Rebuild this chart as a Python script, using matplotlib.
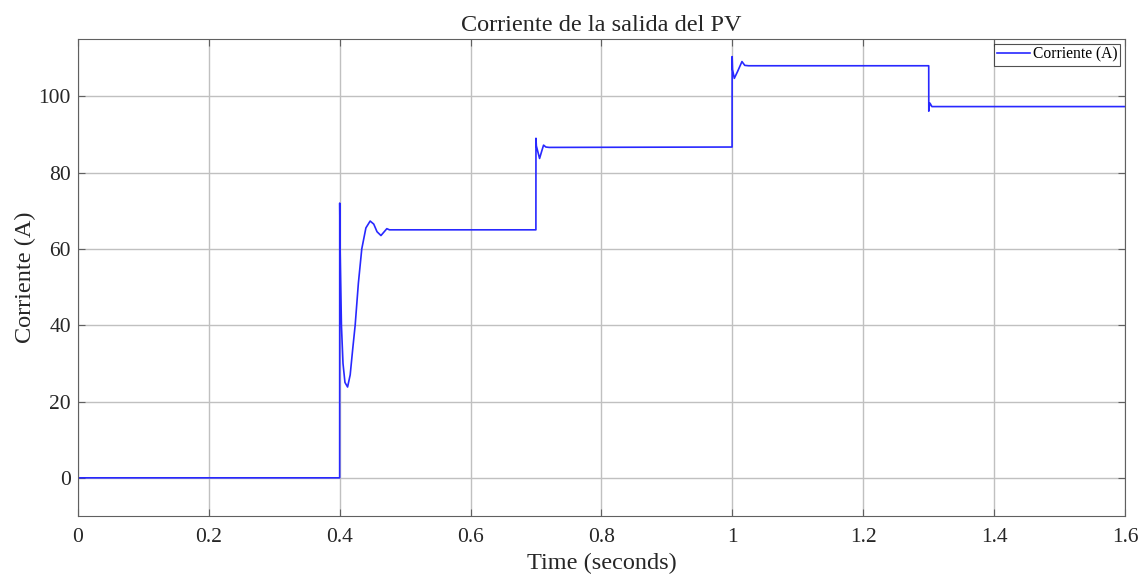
import matplotlib
matplotlib.use("Agg")
import matplotlib.pyplot as plt

# Data (time in s, current in A)
t_data = [0.0, 0.3999, 0.4, 0.4006, 0.4026, 0.405, 0.408, 0.412, 0.416, 0.42,
          0.4236, 0.4285, 0.4337, 0.44, 0.4465, 0.452, 0.457, 0.463, 0.468,
          0.472, 0.476,
          0.6998, 0.6999, 0.7005, 0.7054, 0.709, 0.7115, 0.715, 0.72,
          0.9996, 0.9997, 1.0003, 1.003, 1.008, 1.0147, 1.019, 1.025,
          1.3001, 1.3002, 1.3006, 1.302, 1.305, 1.6]
i_data = [0.0, 0.0, 72.0, 60.0, 40.0, 30.0, 25.0, 23.8, 27.0, 34.0,
          40.0, 51.0, 60.0, 65.5, 67.3, 66.5, 64.5, 63.5, 64.5,
          65.3, 65.0,
          65.0, 89.0, 87.0, 83.7, 85.8, 87.2, 86.7, 86.6,
          86.7, 110.4, 107.0, 104.7, 106.5, 109.1, 108.1, 108.0,
          108.0, 96.1, 97.0, 98.2, 97.3, 97.3]

x_ticks = [0, 0.2, 0.4, 0.6, 0.8, 1.0, 1.2, 1.4, 1.6]
x_labels = ['0', '0.2', '0.4', '0.6', '0.8', '1', '1.2', '1.4', '1.6']
y_ticks = [0, 20, 40, 60, 80, 100]

plt.rcParams['font.family'] = ['Liberation Serif', 'DejaVu Serif']

fig = plt.figure(figsize=(11.45, 5.76), dpi=100)
ax = fig.add_axes([0.0681, 0.1042, 0.9144, 0.828])

ax.plot(t_data, i_data, color='#2828ff', linewidth=1.2, label='Corriente (A)')

ax.set_xlim(0, 1.6)
ax.set_ylim(-10, 115)
ax.set_xticks(x_ticks)
ax.set_xticklabels(x_labels)
ax.set_yticks(y_ticks)

ax.grid(True, color='#c0c0c0', linewidth=1.0)
ax.set_axisbelow(True)
for s in ax.spines.values():
    s.set_color('#606060')
    s.set_linewidth(0.8)
ax.tick_params(direction='in', top=True, right=True, length=5,
               color='#606060', labelsize=15.5, labelcolor='#262626')
ax.tick_params(axis='x', pad=9)
ax.tick_params(axis='y', pad=5)

ax.set_title('Corriente de la salida del PV', fontsize=17.5, color='#262626', pad=6)
ax.set_xlabel('Time (seconds)', fontsize=17.5, color='#262626', labelpad=4)
ax.set_ylabel('Corriente (A)', fontsize=17.5, color='#262626', labelpad=2)

leg = ax.legend(loc='upper right', fontsize=11.2, frameon=True, fancybox=False,
                borderpad=0.2, handlelength=2.1, handletextpad=0.2,
                borderaxespad=0.3)
leg.get_frame().set_edgecolor('#262626')
leg.get_frame().set_linewidth(0.8)

fig.savefig('out.png', dpi=100)
